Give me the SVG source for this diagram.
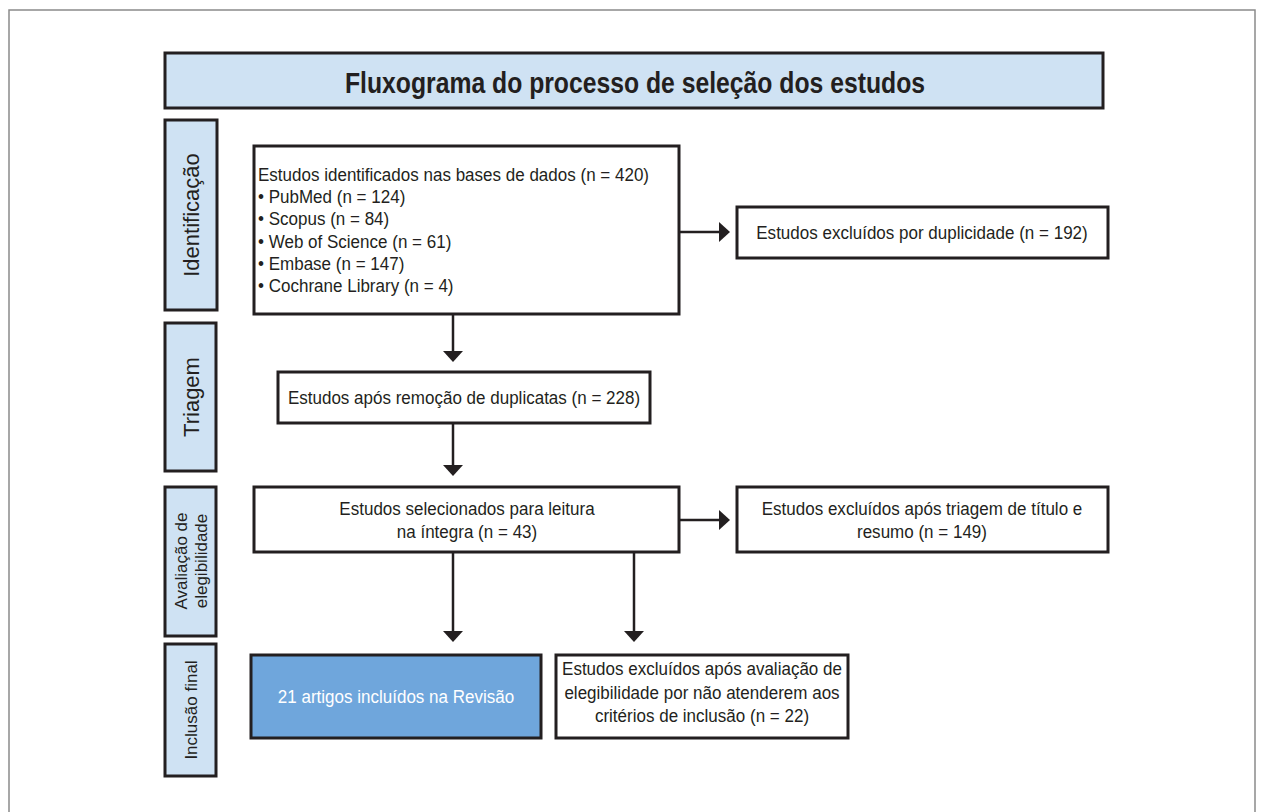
<svg xmlns="http://www.w3.org/2000/svg" width="1265" height="812" viewBox="0 0 1265 812">
<style>
.frame{fill:none;stroke:#8a8a8a;stroke-width:1.5}
.box{fill:#ffffff;stroke:#231f20;stroke-width:3}
.hdr{fill:#cfe2f3;stroke:#231f20;stroke-width:3}
.inc{fill:#6fa6dc;stroke:#231f20;stroke-width:3}
.t{font-family:"Liberation Sans",Arial,sans-serif;font-size:18.5px;fill:#231f20}
.c{text-anchor:middle}
.w{fill:#ffffff}
.side{font-family:"Liberation Sans",Arial,sans-serif;font-size:22px;fill:#231f20;text-anchor:middle;dominant-baseline:central}
.side2{font-family:"Liberation Sans",Arial,sans-serif;font-size:17px;fill:#231f20;text-anchor:middle;dominant-baseline:central}
.title{font-family:"Liberation Sans",Arial,sans-serif;font-size:30px;font-weight:bold;fill:#231f20;text-anchor:middle}
.conn{stroke:#231f20;stroke-width:2.5;fill:none}
</style>
<defs>
<marker id="ah" viewBox="0 0 11 20" markerWidth="11" markerHeight="20" refX="0" refY="10" orient="auto" markerUnits="userSpaceOnUse">
<path d="M0,0 L11,10 L0,20 z" fill="#231f20"/>
</marker>
</defs>
<rect class="frame" x="9" y="10" width="1246" height="830"/>
<g id="title">
<rect class="hdr" x="165" y="53" width="938" height="55"/>
<text class="title" x="635" y="93" textLength="580" lengthAdjust="spacingAndGlyphs">Fluxograma do processo de seleção dos estudos</text>
</g>
<g id="side-identificacao">
<rect class="hdr" x="165" y="120" width="52" height="190"/>
<text class="side" transform="translate(191,215) rotate(-90)">Identificação</text>
</g>
<g id="side-triagem">
<rect class="hdr" x="165" y="323" width="51" height="148"/>
<text class="side" transform="translate(191,397) rotate(-90)">Triagem</text>
</g>
<g id="side-avaliacao">
<rect class="hdr" x="165" y="487" width="51" height="149"/>
<text class="side2" transform="translate(181,561) rotate(-90)">Avaliação de</text>
<text class="side2" transform="translate(201,561) rotate(-90)">elegibilidade</text>
</g>
<g id="side-inclusao">
<rect class="hdr" x="165" y="644" width="51" height="132"/>
<text class="side2" transform="translate(191,710) rotate(-90)">Inclusão final</text>
</g>
<g id="n-identificados">
<rect class="box" x="254" y="146" width="425" height="168"/>
<g transform="matrix(0.92,0,0,1,258,0)">
<text class="t" x="0" y="181">Estudos identificados nas bases de dados (n = 420)</text>
<text class="t" x="0" y="203">• PubMed (n = 124)</text>
<text class="t" x="0" y="225">• Scopus (n = 84)</text>
<text class="t" x="0" y="248">• Web of Science (n = 61)</text>
<text class="t" x="0" y="270">• Embase (n = 147)</text>
<text class="t" x="0" y="292">• Cochrane Library (n = 4)</text>
</g>
</g>
<g id="n-duplicidade">
<rect class="box" x="737" y="207" width="371" height="51"/>
<text class="t c" transform="matrix(0.92,0,0,1,922,0)" x="0" y="239">Estudos excluídos por duplicidade (n = 192)</text>
</g>
<g id="n-triagem">
<rect class="box" x="278" y="372" width="372" height="51"/>
<text class="t c" transform="matrix(0.92,0,0,1,464,0)" x="0" y="404">Estudos após remoção de duplicatas (n = 228)</text>
</g>
<g id="n-selecionados">
<rect class="box" x="254" y="487" width="425" height="65"/>
<g transform="matrix(0.92,0,0,1,467,0)">
<text class="t c" x="0" y="515">Estudos selecionados para leitura</text>
<text class="t c" x="0" y="538">na íntegra (n = 43)</text>
</g>
</g>
<g id="n-excl-triagem">
<rect class="box" x="737" y="487" width="371" height="65"/>
<g transform="matrix(0.92,0,0,1,922,0)">
<text class="t c" x="0" y="515">Estudos excluídos após triagem de título e</text>
<text class="t c" x="0" y="538">resumo (n = 149)</text>
</g>
</g>
<g id="n-incluidos">
<rect class="inc" x="251" y="655" width="290" height="83"/>
<text class="t c w" transform="matrix(0.92,0,0,1,396,0)" x="0" y="703">21 artigos incluídos na Revisão</text>
</g>
<g id="n-excl-eleg">
<rect class="box" x="556" y="655" width="292" height="83"/>
<g transform="matrix(0.92,0,0,1,702,0)">
<text class="t c" x="0" y="675">Estudos excluídos após avaliação de</text>
<text class="t c" x="0" y="699">elegibilidade por não atenderem aos</text>
<text class="t c" x="0" y="722">critérios de inclusão (n = 22)</text>
</g>
</g>
<g id="connectors">
<path class="conn" d="M680,232 H719" marker-end="url(#ah)"/>
<path class="conn" d="M453,314 V351" marker-end="url(#ah)"/>
<path class="conn" d="M453,423 V465" marker-end="url(#ah)"/>
<path class="conn" d="M680,520 H719" marker-end="url(#ah)"/>
<path class="conn" d="M453,552 V631" marker-end="url(#ah)"/>
<path class="conn" d="M634,552 V631" marker-end="url(#ah)"/>
</g>
</svg>
